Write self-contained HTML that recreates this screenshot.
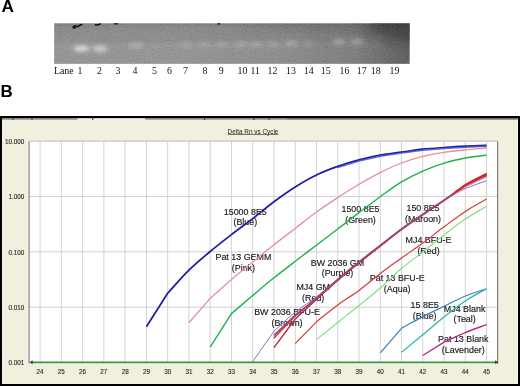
<!DOCTYPE html><html><head><meta charset="utf-8"><style>html,body{margin:0;padding:0;background:#fff;width:520px;height:386px;overflow:hidden}svg{display:block;will-change:transform}</style></head><body>
<svg width="520" height="386" viewBox="0 0 520 386">
<defs>
<linearGradient id="gelg" x1="0" y1="0" x2="1" y2="0">
<stop offset="0" stop-color="#8e8e8e"/><stop offset="0.35" stop-color="#8e8e8e"/><stop offset="0.65" stop-color="#838383"/><stop offset="0.85" stop-color="#717171"/><stop offset="1" stop-color="#4c4c4c"/>
</linearGradient>
<linearGradient id="gelv" x1="0" y1="0" x2="0" y2="1">
<stop offset="0" stop-color="#000" stop-opacity="0.2"/><stop offset="0.12" stop-color="#000" stop-opacity="0.1"/><stop offset="0.42" stop-color="#000" stop-opacity="0.07"/><stop offset="0.55" stop-color="#000" stop-opacity="0"/><stop offset="1" stop-color="#000" stop-opacity="0.02"/>
</linearGradient>
<filter id="blur1" x="-50%" y="-50%" width="200%" height="200%"><feGaussianBlur stdDeviation="2.1"/></filter>
<filter id="blur05"><feGaussianBlur stdDeviation="0.4"/></filter>
<filter id="blur6" x="-50%" y="-50%" width="200%" height="200%"><feGaussianBlur stdDeviation="8"/></filter>
<filter id="gnoise" x="0" y="0" width="100%" height="100%"><feTurbulence type="fractalNoise" baseFrequency="0.7" numOctaves="2" seed="11"/><feColorMatrix type="matrix" values="1 0 0 0 0  1 0 0 0 0  1 0 0 0 0  0 0 0 0 0.2"/><feComposite in2="SourceGraphic" operator="in"/></filter>
</defs>
<text x="1.4" y="12.4" font-family="Liberation Sans" font-weight="bold" font-size="17.2" fill="#000">A</text>
<text x="0.6" y="96.7" font-family="Liberation Sans" font-weight="bold" font-size="16.9" fill="#000">B</text>
<rect x="54.2" y="23.4" width="355.40000000000003" height="40.4" fill="url(#gelg)"/>
<rect x="54.2" y="23.4" width="355.40000000000003" height="40.4" fill="url(#gelv)"/>
<clipPath id="gelclip"><rect x="54.2" y="23.4" width="355.40000000000003" height="40.4"/></clipPath>
<g clip-path="url(#gelclip)"><ellipse cx="414" cy="22" rx="48" ry="18" fill="#151515" opacity="0.7" filter="url(#blur6)"/><ellipse cx="330" cy="22" rx="80" ry="6" fill="#1a1a1a" opacity="0.18" filter="url(#blur6)"/></g>
<rect x="54.2" y="23.4" width="355.40000000000003" height="40.4" filter="url(#gnoise)"/>
<g filter="url(#blur1)">
<ellipse cx="81.6" cy="48.4" rx="8" ry="3.0" fill="#f0f0f0" opacity="0.78"/>
<ellipse cx="100" cy="48.6" rx="7.5" ry="2.9" fill="#f0f0f0" opacity="0.64"/>
<ellipse cx="136" cy="45.6" rx="7" ry="2.5" fill="#f0f0f0" opacity="0.32"/>
<ellipse cx="186" cy="44.2" rx="7" ry="2.2" fill="#f0f0f0" opacity="0.2"/>
<ellipse cx="205" cy="44.2" rx="7" ry="2.2" fill="#f0f0f0" opacity="0.24"/>
<ellipse cx="222" cy="44.2" rx="7" ry="2.2" fill="#f0f0f0" opacity="0.26"/>
<ellipse cx="241" cy="43.9" rx="7" ry="2.2" fill="#f0f0f0" opacity="0.28"/>
<ellipse cx="256" cy="43.9" rx="7" ry="2.2" fill="#f0f0f0" opacity="0.28"/>
<ellipse cx="273" cy="43.9" rx="7" ry="2.2" fill="#f0f0f0" opacity="0.26"/>
<ellipse cx="291" cy="43.2" rx="7" ry="2.4" fill="#f0f0f0" opacity="0.32"/>
<ellipse cx="309" cy="43.2" rx="6" ry="2.2" fill="#f0f0f0" opacity="0.16"/>
<ellipse cx="339" cy="41.6" rx="7" ry="2.6" fill="#f0f0f0" opacity="0.34"/>
<ellipse cx="357" cy="41.6" rx="7" ry="2.6" fill="#f0f0f0" opacity="0.34"/>
<ellipse cx="376" cy="42" rx="6" ry="2.2" fill="#f0f0f0" opacity="0.08"/>
</g>
<g fill="none" stroke="#111" stroke-linecap="round" filter="url(#blur05)"><path d="M73.5,26.8 q1.5,-1.8 3,-0.6 q1.5,1 3,-0.8 q1.2,-1.4 2.2,-0.6" stroke-width="1.6"/><path d="M73.2,27.5 l2,0.4" stroke-width="1.8"/><path d="M95.5,24.8 q2,0.6 4.6,-0.9" stroke-width="1.5"/><path d="M114.3,23.8 l3.4,0" stroke-width="1.3"/><path d="M217.8,23.9 l2,0" stroke-width="1.2"/></g>
<text x="63.8" y="73.9" text-anchor="middle" font-family="Liberation Serif" font-size="9.9" fill="#111">Lane</text>
<text x="80" y="73.9" text-anchor="middle" font-family="Liberation Serif" font-size="9.9" fill="#111">1</text>
<text x="99.5" y="73.9" text-anchor="middle" font-family="Liberation Serif" font-size="9.9" fill="#111">2</text>
<text x="118" y="73.9" text-anchor="middle" font-family="Liberation Serif" font-size="9.9" fill="#111">3</text>
<text x="135" y="73.9" text-anchor="middle" font-family="Liberation Serif" font-size="9.9" fill="#111">4</text>
<text x="154.5" y="73.9" text-anchor="middle" font-family="Liberation Serif" font-size="9.9" fill="#111">5</text>
<text x="169.5" y="73.9" text-anchor="middle" font-family="Liberation Serif" font-size="9.9" fill="#111">6</text>
<text x="185.5" y="73.9" text-anchor="middle" font-family="Liberation Serif" font-size="9.9" fill="#111">7</text>
<text x="205" y="73.9" text-anchor="middle" font-family="Liberation Serif" font-size="9.9" fill="#111">8</text>
<text x="221.3" y="73.9" text-anchor="middle" font-family="Liberation Serif" font-size="9.9" fill="#111">9</text>
<text x="242.5" y="73.9" text-anchor="middle" font-family="Liberation Serif" font-size="9.9" fill="#111">10</text>
<text x="255.2" y="73.9" text-anchor="middle" font-family="Liberation Serif" font-size="9.9" fill="#111">11</text>
<text x="272.5" y="73.9" text-anchor="middle" font-family="Liberation Serif" font-size="9.9" fill="#111">12</text>
<text x="291" y="73.9" text-anchor="middle" font-family="Liberation Serif" font-size="9.9" fill="#111">13</text>
<text x="308.8" y="73.9" text-anchor="middle" font-family="Liberation Serif" font-size="9.9" fill="#111">14</text>
<text x="325.8" y="73.9" text-anchor="middle" font-family="Liberation Serif" font-size="9.9" fill="#111">15</text>
<text x="344.5" y="73.9" text-anchor="middle" font-family="Liberation Serif" font-size="9.9" fill="#111">16</text>
<text x="361.8" y="73.9" text-anchor="middle" font-family="Liberation Serif" font-size="9.9" fill="#111">17</text>
<text x="375.8" y="73.9" text-anchor="middle" font-family="Liberation Serif" font-size="9.9" fill="#111">18</text>
<text x="394.5" y="73.9" text-anchor="middle" font-family="Liberation Serif" font-size="9.9" fill="#111">19</text>
<rect x="0" y="116" width="520" height="270" fill="#000"/>
<rect x="2" y="118" width="516" height="266" fill="#f1efde"/>
<rect x="2" y="118" width="75.5" height="1.7" fill="#8e8c82"/>
<rect x="145" y="118" width="142" height="1.7" fill="#8e8c82"/>
<rect x="287" y="118" width="231" height="1.7" fill="#74736b"/>
<rect x="77.5" y="118" width="67.5" height="0.8" fill="#c8c6ba"/>
<rect x="12.4" y="118" width="1.2" height="1.8" fill="#3a3a36"/>
<rect x="31.4" y="118" width="1.2" height="1.8" fill="#3a3a36"/>
<rect x="92.10000000000001" y="118" width="1.2" height="1.8" fill="#3a3a36"/>
<rect x="204.0" y="118" width="1.2" height="1.8" fill="#3a3a36"/>
<rect x="253.20000000000002" y="118" width="1.2" height="1.8" fill="#3a3a36"/>
<rect x="268.59999999999997" y="118" width="1.2" height="1.8" fill="#3a3a36"/>
<rect x="517" y="119.5" width="1" height="264" fill="#fbfaf2"/>
<rect x="28.5" y="140.8" width="469.1" height="223.0" fill="#fff"/>
<line x1="40.10" y1="140.8" x2="40.10" y2="361.8" stroke="#d4d4d4" stroke-width="1"/>
<line x1="61.36" y1="140.8" x2="61.36" y2="361.8" stroke="#d4d4d4" stroke-width="1"/>
<line x1="82.62" y1="140.8" x2="82.62" y2="361.8" stroke="#d4d4d4" stroke-width="1"/>
<line x1="103.88" y1="140.8" x2="103.88" y2="361.8" stroke="#d4d4d4" stroke-width="1"/>
<line x1="125.14" y1="140.8" x2="125.14" y2="361.8" stroke="#d4d4d4" stroke-width="1"/>
<line x1="146.40" y1="140.8" x2="146.40" y2="361.8" stroke="#d4d4d4" stroke-width="1"/>
<line x1="167.66" y1="140.8" x2="167.66" y2="361.8" stroke="#d4d4d4" stroke-width="1"/>
<line x1="188.92" y1="140.8" x2="188.92" y2="361.8" stroke="#d4d4d4" stroke-width="1"/>
<line x1="210.18" y1="140.8" x2="210.18" y2="361.8" stroke="#d4d4d4" stroke-width="1"/>
<line x1="231.44" y1="140.8" x2="231.44" y2="361.8" stroke="#d4d4d4" stroke-width="1"/>
<line x1="252.70" y1="140.8" x2="252.70" y2="361.8" stroke="#d4d4d4" stroke-width="1"/>
<line x1="273.96" y1="140.8" x2="273.96" y2="361.8" stroke="#d4d4d4" stroke-width="1"/>
<line x1="295.22" y1="140.8" x2="295.22" y2="361.8" stroke="#d4d4d4" stroke-width="1"/>
<line x1="316.48" y1="140.8" x2="316.48" y2="361.8" stroke="#d4d4d4" stroke-width="1"/>
<line x1="337.74" y1="140.8" x2="337.74" y2="361.8" stroke="#d4d4d4" stroke-width="1"/>
<line x1="359.00" y1="140.8" x2="359.00" y2="361.8" stroke="#d4d4d4" stroke-width="1"/>
<line x1="380.26" y1="140.8" x2="380.26" y2="361.8" stroke="#d4d4d4" stroke-width="1"/>
<line x1="401.52" y1="140.8" x2="401.52" y2="361.8" stroke="#d4d4d4" stroke-width="1"/>
<line x1="422.78" y1="140.8" x2="422.78" y2="361.8" stroke="#d4d4d4" stroke-width="1"/>
<line x1="444.04" y1="140.8" x2="444.04" y2="361.8" stroke="#d4d4d4" stroke-width="1"/>
<line x1="465.30" y1="140.8" x2="465.30" y2="361.8" stroke="#d4d4d4" stroke-width="1"/>
<line x1="486.56" y1="140.8" x2="486.56" y2="361.8" stroke="#d4d4d4" stroke-width="1"/>
<line x1="28.5" y1="196.40" x2="497.6" y2="196.40" stroke="#d0d0d0" stroke-width="1"/>
<line x1="28.5" y1="251.80" x2="497.6" y2="251.80" stroke="#d0d0d0" stroke-width="1"/>
<line x1="28.5" y1="307.20" x2="497.6" y2="307.20" stroke="#d0d0d0" stroke-width="1"/>
<line x1="29.1" y1="141.20000000000002" x2="29.1" y2="363.8" stroke="#8c8c8c" stroke-width="1.3"/>
<line x1="497.6" y1="140.8" x2="497.6" y2="363.8" stroke="#7c7c7c" stroke-width="1.2"/>
<line x1="28.5" y1="141.1" x2="497.6" y2="141.1" stroke="#c6c6be" stroke-width="1.3"/>
<text x="24.2" y="143.70" text-anchor="end" font-family="Liberation Sans" font-size="6.3" fill="#2a2a2a" stroke="#2a2a2a" stroke-width="0.12">10.000</text>
<text x="24.2" y="199.10" text-anchor="end" font-family="Liberation Sans" font-size="6.3" fill="#2a2a2a" stroke="#2a2a2a" stroke-width="0.12">1.000</text>
<text x="24.2" y="254.50" text-anchor="end" font-family="Liberation Sans" font-size="6.3" fill="#2a2a2a" stroke="#2a2a2a" stroke-width="0.12">0.100</text>
<text x="24.2" y="309.90" text-anchor="end" font-family="Liberation Sans" font-size="6.3" fill="#2a2a2a" stroke="#2a2a2a" stroke-width="0.12">0.010</text>
<text x="24.2" y="365.30" text-anchor="end" font-family="Liberation Sans" font-size="6.3" fill="#2a2a2a" stroke="#2a2a2a" stroke-width="0.12">0.001</text>
<text x="40.10" y="373.8" text-anchor="middle" font-family="Liberation Sans" font-size="6.3" fill="#2a2a2a" stroke="#2a2a2a" stroke-width="0.12">24</text>
<text x="61.36" y="373.8" text-anchor="middle" font-family="Liberation Sans" font-size="6.3" fill="#2a2a2a" stroke="#2a2a2a" stroke-width="0.12">25</text>
<text x="82.62" y="373.8" text-anchor="middle" font-family="Liberation Sans" font-size="6.3" fill="#2a2a2a" stroke="#2a2a2a" stroke-width="0.12">26</text>
<text x="103.88" y="373.8" text-anchor="middle" font-family="Liberation Sans" font-size="6.3" fill="#2a2a2a" stroke="#2a2a2a" stroke-width="0.12">27</text>
<text x="125.14" y="373.8" text-anchor="middle" font-family="Liberation Sans" font-size="6.3" fill="#2a2a2a" stroke="#2a2a2a" stroke-width="0.12">28</text>
<text x="146.40" y="373.8" text-anchor="middle" font-family="Liberation Sans" font-size="6.3" fill="#2a2a2a" stroke="#2a2a2a" stroke-width="0.12">29</text>
<text x="167.66" y="373.8" text-anchor="middle" font-family="Liberation Sans" font-size="6.3" fill="#2a2a2a" stroke="#2a2a2a" stroke-width="0.12">30</text>
<text x="188.92" y="373.8" text-anchor="middle" font-family="Liberation Sans" font-size="6.3" fill="#2a2a2a" stroke="#2a2a2a" stroke-width="0.12">31</text>
<text x="210.18" y="373.8" text-anchor="middle" font-family="Liberation Sans" font-size="6.3" fill="#2a2a2a" stroke="#2a2a2a" stroke-width="0.12">32</text>
<text x="231.44" y="373.8" text-anchor="middle" font-family="Liberation Sans" font-size="6.3" fill="#2a2a2a" stroke="#2a2a2a" stroke-width="0.12">33</text>
<text x="252.70" y="373.8" text-anchor="middle" font-family="Liberation Sans" font-size="6.3" fill="#2a2a2a" stroke="#2a2a2a" stroke-width="0.12">34</text>
<text x="273.96" y="373.8" text-anchor="middle" font-family="Liberation Sans" font-size="6.3" fill="#2a2a2a" stroke="#2a2a2a" stroke-width="0.12">35</text>
<text x="295.22" y="373.8" text-anchor="middle" font-family="Liberation Sans" font-size="6.3" fill="#2a2a2a" stroke="#2a2a2a" stroke-width="0.12">36</text>
<text x="316.48" y="373.8" text-anchor="middle" font-family="Liberation Sans" font-size="6.3" fill="#2a2a2a" stroke="#2a2a2a" stroke-width="0.12">37</text>
<text x="337.74" y="373.8" text-anchor="middle" font-family="Liberation Sans" font-size="6.3" fill="#2a2a2a" stroke="#2a2a2a" stroke-width="0.12">38</text>
<text x="359.00" y="373.8" text-anchor="middle" font-family="Liberation Sans" font-size="6.3" fill="#2a2a2a" stroke="#2a2a2a" stroke-width="0.12">39</text>
<text x="380.26" y="373.8" text-anchor="middle" font-family="Liberation Sans" font-size="6.3" fill="#2a2a2a" stroke="#2a2a2a" stroke-width="0.12">40</text>
<text x="401.52" y="373.8" text-anchor="middle" font-family="Liberation Sans" font-size="6.3" fill="#2a2a2a" stroke="#2a2a2a" stroke-width="0.12">41</text>
<text x="422.78" y="373.8" text-anchor="middle" font-family="Liberation Sans" font-size="6.3" fill="#2a2a2a" stroke="#2a2a2a" stroke-width="0.12">42</text>
<text x="444.04" y="373.8" text-anchor="middle" font-family="Liberation Sans" font-size="6.3" fill="#2a2a2a" stroke="#2a2a2a" stroke-width="0.12">43</text>
<text x="465.30" y="373.8" text-anchor="middle" font-family="Liberation Sans" font-size="6.3" fill="#2a2a2a" stroke="#2a2a2a" stroke-width="0.12">44</text>
<text x="486.56" y="373.8" text-anchor="middle" font-family="Liberation Sans" font-size="6.3" fill="#2a2a2a" stroke="#2a2a2a" stroke-width="0.12">45</text>
<text x="253" y="134" text-anchor="middle" font-family="Liberation Sans" font-size="6.4" fill="#222">Delta Rn vs Cycle</text>
<line x1="227.8" y1="134.5" x2="278.2" y2="134.5" stroke="#222" stroke-width="0.6"/>
<text transform="translate(245.3,214.50) scale(1.06,1)" text-anchor="middle" font-family="Liberation Sans" font-size="8.4" fill="#1a1a1a" stroke="#1a1a1a" stroke-width="0.15">15000 8E5</text>
<text transform="translate(245.3,224.90) scale(1.06,1)" text-anchor="middle" font-family="Liberation Sans" font-size="8.4" fill="#1a1a1a" stroke="#1a1a1a" stroke-width="0.15">(Blue)</text>
<text transform="translate(243.4,260.20) scale(1.06,1)" text-anchor="middle" font-family="Liberation Sans" font-size="8.4" fill="#1a1a1a" stroke="#1a1a1a" stroke-width="0.15">Pat 13 GEMM</text>
<text transform="translate(243.4,270.80) scale(1.06,1)" text-anchor="middle" font-family="Liberation Sans" font-size="8.4" fill="#1a1a1a" stroke="#1a1a1a" stroke-width="0.15">(Pink)</text>
<text transform="translate(360.5,211.70) scale(1.06,1)" text-anchor="middle" font-family="Liberation Sans" font-size="8.4" fill="#1a1a1a" stroke="#1a1a1a" stroke-width="0.15">1500 8E5</text>
<text transform="translate(360.5,222.50) scale(1.06,1)" text-anchor="middle" font-family="Liberation Sans" font-size="8.4" fill="#1a1a1a" stroke="#1a1a1a" stroke-width="0.15">(Green)</text>
<text transform="translate(423.0,211.40) scale(1.06,1)" text-anchor="middle" font-family="Liberation Sans" font-size="8.4" fill="#1a1a1a" stroke="#1a1a1a" stroke-width="0.15">150 8E5</text>
<text transform="translate(423.0,222.30) scale(1.06,1)" text-anchor="middle" font-family="Liberation Sans" font-size="8.4" fill="#1a1a1a" stroke="#1a1a1a" stroke-width="0.15">(Maroon)</text>
<text transform="translate(428.5,243.30) scale(1.06,1)" text-anchor="middle" font-family="Liberation Sans" font-size="8.4" fill="#1a1a1a" stroke="#1a1a1a" stroke-width="0.15">MJ4 BFU-E</text>
<text transform="translate(428.5,254.20) scale(1.06,1)" text-anchor="middle" font-family="Liberation Sans" font-size="8.4" fill="#1a1a1a" stroke="#1a1a1a" stroke-width="0.15">(Red)</text>
<text transform="translate(337.5,265.70) scale(1.06,1)" text-anchor="middle" font-family="Liberation Sans" font-size="8.4" fill="#1a1a1a" stroke="#1a1a1a" stroke-width="0.15">BW 2036 GM</text>
<text transform="translate(337.5,276.30) scale(1.06,1)" text-anchor="middle" font-family="Liberation Sans" font-size="8.4" fill="#1a1a1a" stroke="#1a1a1a" stroke-width="0.15">(Purple)</text>
<text transform="translate(397.2,281.40) scale(1.06,1)" text-anchor="middle" font-family="Liberation Sans" font-size="8.4" fill="#1a1a1a" stroke="#1a1a1a" stroke-width="0.15">Pat 13 BFU-E</text>
<text transform="translate(397.2,292.10) scale(1.06,1)" text-anchor="middle" font-family="Liberation Sans" font-size="8.4" fill="#1a1a1a" stroke="#1a1a1a" stroke-width="0.15">(Aqua)</text>
<text transform="translate(313.2,289.90) scale(1.06,1)" text-anchor="middle" font-family="Liberation Sans" font-size="8.4" fill="#1a1a1a" stroke="#1a1a1a" stroke-width="0.15">MJ4 GM</text>
<text transform="translate(313.2,300.70) scale(1.06,1)" text-anchor="middle" font-family="Liberation Sans" font-size="8.4" fill="#1a1a1a" stroke="#1a1a1a" stroke-width="0.15">(Red)</text>
<text transform="translate(287.0,314.50) scale(1.06,1)" text-anchor="middle" font-family="Liberation Sans" font-size="8.4" fill="#1a1a1a" stroke="#1a1a1a" stroke-width="0.15">BW 2036 BFU-E</text>
<text transform="translate(287.0,325.50) scale(1.06,1)" text-anchor="middle" font-family="Liberation Sans" font-size="8.4" fill="#1a1a1a" stroke="#1a1a1a" stroke-width="0.15">(Brown)</text>
<text transform="translate(424.7,307.90) scale(1.06,1)" text-anchor="middle" font-family="Liberation Sans" font-size="8.4" fill="#1a1a1a" stroke="#1a1a1a" stroke-width="0.15">15 8E5</text>
<text transform="translate(424.7,318.90) scale(1.06,1)" text-anchor="middle" font-family="Liberation Sans" font-size="8.4" fill="#1a1a1a" stroke="#1a1a1a" stroke-width="0.15">(Blue)</text>
<text transform="translate(464.6,311.80) scale(1.06,1)" text-anchor="middle" font-family="Liberation Sans" font-size="8.4" fill="#1a1a1a" stroke="#1a1a1a" stroke-width="0.15">MJ4 Blank</text>
<text transform="translate(464.6,322.30) scale(1.06,1)" text-anchor="middle" font-family="Liberation Sans" font-size="8.4" fill="#1a1a1a" stroke="#1a1a1a" stroke-width="0.15">(Teal)</text>
<text transform="translate(463.3,342.30) scale(1.06,1)" text-anchor="middle" font-family="Liberation Sans" font-size="8.4" fill="#1a1a1a" stroke="#1a1a1a" stroke-width="0.15">Pat 13 Blank</text>
<text transform="translate(463.3,352.70) scale(1.06,1)" text-anchor="middle" font-family="Liberation Sans" font-size="8.4" fill="#1a1a1a" stroke="#1a1a1a" stroke-width="0.15">(Lavender)</text>
<path d="M188.92,322.80 L210.18,298.40 C217.27,292.10 224.35,285.57 231.44,279.50 C238.53,273.43 245.61,267.78 252.70,262.00 C259.79,256.22 266.87,250.40 273.96,244.80 C281.05,239.20 288.13,233.87 295.22,228.40 C302.31,222.93 309.39,217.13 316.48,212.00 C323.57,206.87 330.65,202.22 337.74,197.60 C344.83,192.98 351.91,188.47 359.00,184.30 C366.09,180.13 373.17,176.15 380.26,172.60 C387.35,169.05 394.43,165.70 401.52,163.00 C408.61,160.30 415.69,158.18 422.78,156.40 C429.87,154.62 436.95,153.40 444.04,152.30 C451.13,151.20 458.21,150.52 465.30,149.80 C472.39,149.08 479.47,148.60 486.56,148.00" fill="none" stroke="#e6909a" stroke-width="1.3" stroke-linejoin="round" stroke-linecap="butt"/>
<path d="M210.18,347.20 L231.44,313.60 C238.53,307.57 245.61,301.47 252.70,295.50 C259.79,289.53 266.87,283.50 273.96,277.80 C281.05,272.10 288.13,266.73 295.22,261.30 C302.31,255.87 309.39,250.58 316.48,245.20 C323.57,239.82 330.65,234.43 337.74,229.00 C344.83,223.57 351.91,217.98 359.00,212.60 C366.09,207.22 373.17,201.82 380.26,196.70 C387.35,191.58 394.43,186.17 401.52,181.90 C408.61,177.63 415.69,174.22 422.78,171.10 C429.87,167.98 436.95,165.38 444.04,163.20 C451.13,161.02 458.21,159.33 465.30,158.00 C472.39,156.67 479.47,156.13 486.56,155.20" fill="none" stroke="#20b050" stroke-width="1.4" stroke-linejoin="round" stroke-linecap="butt"/>
<path d="M146.40,326.80 L167.66,293.20 C174.75,285.53 181.83,277.15 188.92,270.20 C196.01,263.25 203.09,257.43 210.18,251.50 C217.27,245.57 224.35,240.08 231.44,234.60 C238.53,229.12 245.61,224.07 252.70,218.60 C259.79,213.13 266.87,207.07 273.96,201.80 C281.05,196.53 288.13,191.47 295.22,187.00 C302.31,182.53 309.39,178.43 316.48,175.00 C323.57,171.57 330.65,168.92 337.74,166.40 C344.83,163.88 351.91,161.77 359.00,159.90 C366.09,158.03 373.17,156.50 380.26,155.20 C387.35,153.90 394.43,153.10 401.52,152.10 C408.61,151.10 415.69,149.97 422.78,149.20 C429.87,148.43 436.95,148.00 444.04,147.50 C451.13,147.00 458.21,146.55 465.30,146.20 C472.39,145.85 479.47,145.67 486.56,145.40" fill="none" stroke="#1e1ea0" stroke-width="1.75" stroke-linejoin="round" stroke-linecap="butt"/>
<path d="M252.70,361.60 L273.96,331.20 C281.05,324.80 288.13,317.70 295.22,312.00 C302.31,306.30 309.39,302.50 316.48,297.00 C323.57,291.50 330.65,284.83 337.74,279.00 C344.83,273.17 351.91,267.67 359.00,262.00 C366.09,256.33 373.17,250.60 380.26,245.00 C387.35,239.40 394.43,233.60 401.52,228.40 C408.61,223.20 415.69,218.57 422.78,213.80 C429.87,209.03 436.95,204.00 444.04,199.80 C451.13,195.60 458.21,191.77 465.30,188.60 C472.39,185.43 479.47,183.40 486.56,180.80" fill="none" stroke="#7c78cc" stroke-width="1.0" stroke-linejoin="round" stroke-linecap="butt"/>
<path d="M273.96,337.90 L295.22,316.00 C302.31,310.00 309.39,304.03 316.48,298.00 C323.57,291.97 330.65,285.73 337.74,279.80 C344.83,273.87 351.91,268.10 359.00,262.40 C366.09,256.70 373.17,251.12 380.26,245.60 C387.35,240.08 394.43,234.47 401.52,229.30 C408.61,224.13 415.69,219.45 422.78,214.60 C429.87,209.75 436.95,205.17 444.04,200.20 C451.13,195.23 458.21,189.23 465.30,184.80 C472.39,180.37 479.47,177.33 486.56,173.60" fill="none" stroke="#e02828" stroke-width="1.4" stroke-linejoin="round" stroke-linecap="butt"/>
<path d="M273.96,347.60 L295.22,319.00 C302.31,312.50 309.39,305.92 316.48,299.50 C323.57,293.08 330.65,286.58 337.74,280.50 C344.83,274.42 351.91,268.72 359.00,263.00 C366.09,257.28 373.17,251.78 380.26,246.20 C387.35,240.62 394.43,234.73 401.52,229.50 C408.61,224.27 415.69,219.63 422.78,214.80 C429.87,209.97 436.95,205.33 444.04,200.50 C451.13,195.67 458.21,190.02 465.30,185.80 C472.39,181.58 479.47,178.73 486.56,175.20" fill="none" stroke="#b82038" stroke-width="1.3" stroke-linejoin="round" stroke-linecap="butt"/>
<path d="M273.96,335.30 L295.22,315.00 C302.31,309.53 309.39,304.50 316.48,298.60 C323.57,292.70 330.65,285.70 337.74,279.60 C344.83,273.50 351.91,267.67 359.00,262.00 C366.09,256.33 373.17,251.07 380.26,245.60 C387.35,240.13 394.43,234.37 401.52,229.20 C408.61,224.03 415.69,219.40 422.78,214.60 C429.87,209.80 436.95,205.07 444.04,200.40 C451.13,195.73 458.21,190.63 465.30,186.60 C472.39,182.57 479.47,179.67 486.56,176.20" fill="none" stroke="#9a4878" stroke-width="1.7" stroke-linejoin="round" stroke-linecap="butt"/>
<path d="M295.22,343.60 L316.48,321.80 C323.57,316.20 330.65,310.22 337.74,305.00 C344.83,299.78 351.91,295.75 359.00,290.50 C366.09,285.25 373.17,278.92 380.26,273.50 C387.35,268.08 394.43,263.08 401.52,258.00 C408.61,252.92 415.69,248.20 422.78,243.00 C429.87,237.80 436.95,232.07 444.04,226.80 C451.13,221.53 458.21,216.02 465.30,211.40 C472.39,206.78 479.47,203.20 486.56,199.10" fill="none" stroke="#d83838" stroke-width="1.2" stroke-linejoin="round" stroke-linecap="butt"/>
<path d="M316.48,339.60 L337.74,322.50 C344.83,316.83 351.91,311.25 359.00,305.50 C366.09,299.75 373.17,294.17 380.26,288.00 C387.35,281.83 394.43,274.50 401.52,268.50 C408.61,262.50 415.69,257.58 422.78,252.00 C429.87,246.42 436.95,240.48 444.04,235.00 C451.13,229.52 458.21,223.90 465.30,219.10 C472.39,214.30 479.47,210.50 486.56,206.20" fill="none" stroke="#80e080" stroke-width="1.2" stroke-linejoin="round" stroke-linecap="butt"/>
<path d="M380.26,352.90 L401.52,328.30 C408.61,324.40 415.69,320.27 422.78,316.60 C429.87,312.93 436.95,309.73 444.04,306.30 C451.13,302.87 458.21,298.93 465.30,296.00 C472.39,293.07 479.47,291.13 486.56,288.70" fill="none" stroke="#3a82bc" stroke-width="1.2" stroke-linejoin="round" stroke-linecap="butt"/>
<path d="M401.52,352.40 L422.78,334.80 C429.87,328.87 436.95,322.63 444.04,317.00 C451.13,311.37 458.21,305.72 465.30,301.00 C472.39,296.28 479.47,292.80 486.56,288.70" fill="none" stroke="#22b4a4" stroke-width="1.2" stroke-linejoin="round" stroke-linecap="butt"/>
<path d="M422.78,355.50 L444.04,342.20 C451.13,339.00 458.21,335.53 465.30,332.60 C472.39,329.67 479.47,327.27 486.56,324.60" fill="none" stroke="#b42c84" stroke-width="1.4" stroke-linejoin="round" stroke-linecap="butt"/>
<polyline points="337.74,167.60 359.00,161.00 380.26,156.30 401.52,153.10 422.78,150.30 444.04,148.50 465.30,147.20 486.56,146.30" fill="none" stroke="#4452cc" stroke-width="1.5" stroke-opacity="0.85" stroke-linejoin="round"/>
<polyline points="454.67,194.50 465.30,187.00 486.56,176.60" fill="none" stroke="#e8a0a8" stroke-width="1.0" stroke-opacity="0.9" stroke-linejoin="round"/>
<polyline points="454.67,193.00 465.30,185.00 486.56,173.80" fill="none" stroke="#d82424" stroke-width="1.6" stroke-opacity="1.0" stroke-linejoin="round"/>
<line x1="31" y1="362.3" x2="496" y2="362.3" stroke="#2e9a3a" stroke-width="1.8"/>
<path d="M29.6,362.2 l3,-2 l0,4z" fill="#1e401e"/>
<path d="M498.2,362.2 l-3,-2 l0,4z" fill="#1e401e"/>
</svg></body></html>
